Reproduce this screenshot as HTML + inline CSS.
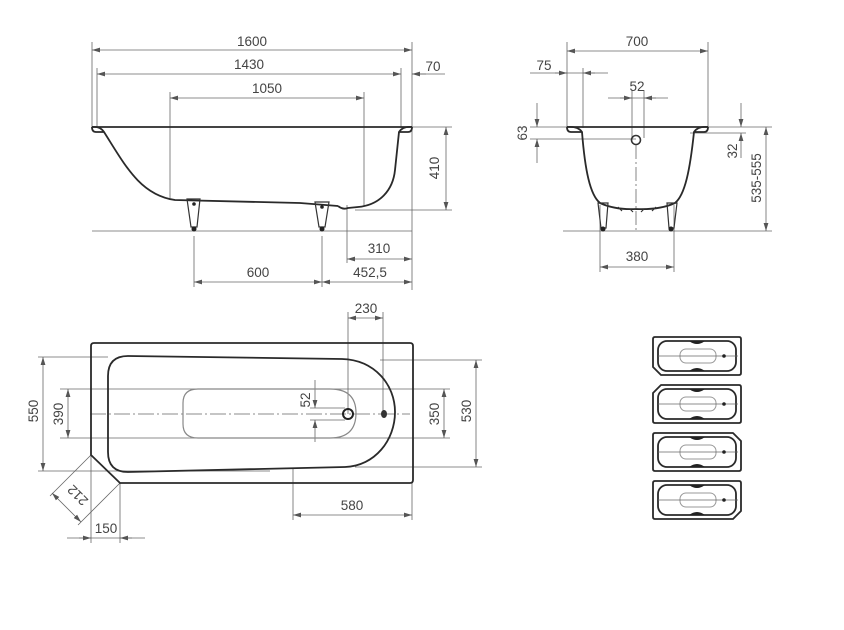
<!DOCTYPE html>
<html><head><meta charset="utf-8"><style>
html,body{margin:0;padding:0;background:#fff;}
svg{display:block;font-family:"Liberation Sans","DejaVu Sans",sans-serif;}
.o{fill:none;stroke:#2a2a2a;stroke-width:1.8;stroke-linejoin:round}
.d{fill:none;stroke:#666;stroke-width:0.8}
.c{fill:none;stroke:#777;stroke-width:0.8;stroke-dasharray:14 3 2 3}
.r{fill:none;stroke:#888;stroke-width:1.2}
text{font-size:13.5px;fill:#444;text-anchor:middle}
</style></head><body>
<svg width="844" height="630" viewBox="0 0 844 630" xmlns="http://www.w3.org/2000/svg">
<defs>
<marker id="a" viewBox="0 0 10 6" refX="10" refY="3" markerWidth="8" markerHeight="5" orient="auto-start-reverse" markerUnits="userSpaceOnUse"><path d="M0,0 L10,3 L0,6z" fill="#555"/></marker>
</defs>

<!-- ===== SIDE ELEVATION ===== -->
<g class="d">
<line x1="92" y1="42" x2="92" y2="128"/>
<line x1="412" y1="42" x2="412" y2="290"/>
<line x1="97" y1="68" x2="97" y2="128"/>
<line x1="401" y1="68" x2="401" y2="128"/>
<line x1="170" y1="92" x2="170" y2="198"/>
<line x1="364" y1="92" x2="364" y2="206"/>
<line x1="92" y1="50" x2="412" y2="50" marker-start="url(#a)" marker-end="url(#a)"/>
<line x1="97" y1="74" x2="401" y2="74" marker-start="url(#a)" marker-end="url(#a)"/>
<line x1="412" y1="74" x2="445" y2="74"/>
<line x1="426" y1="74" x2="412" y2="74" marker-end="url(#a)"/>
<line x1="170" y1="98" x2="364" y2="98" marker-start="url(#a)" marker-end="url(#a)"/>
<line x1="412" y1="127" x2="452" y2="127"/>
<line x1="355" y1="210" x2="452" y2="210"/>
<line x1="446" y1="127" x2="446" y2="210" marker-start="url(#a)" marker-end="url(#a)"/>
<line x1="347" y1="205" x2="347" y2="263"/>
<line x1="347" y1="259" x2="412" y2="259" marker-start="url(#a)" marker-end="url(#a)"/>
<line x1="194" y1="236" x2="194" y2="287"/>
<line x1="322" y1="236" x2="322" y2="287"/>
<line x1="194" y1="282" x2="322" y2="282" marker-start="url(#a)" marker-end="url(#a)"/>
<line x1="322" y1="282" x2="412" y2="282" marker-start="url(#a)" marker-end="url(#a)"/>
<line x1="92" y1="231" x2="412" y2="231"/>
</g>
<text x="252" y="46">1600</text>
<text x="249" y="69">1430</text>
<text x="433" y="71">70</text>
<text x="267" y="93">1050</text>
<text x="0" y="0" transform="translate(439,168) rotate(-90)">410</text>
<text x="379" y="253">310</text>
<text x="258" y="277">600</text>
<text x="370" y="277">452,5</text>
<g class="o">
<path d="M92,127 L412,127"/>
<path d="M92,127 Q92,132 96,132 L104,132 Q100,126 92,127"/>
<path d="M412,127 Q412,132 408,132 L399,132 Q403,126 412,127"/>
<path d="M104,132 C125,165 140,195 175,200 L300,203 L338,206"/>
<path d="M338,206 Q343,210 348,208 L358,207 C380,205 393,190 395,170 L399,132"/>
</g>
<g fill="none" stroke="#333" stroke-width="1.2">
<path d="M187,199 L200,199 L197,227 L191,227 Z"/>
<path d="M315,202 L329,202 L325,227 L319,227 Z"/>
</g>
<circle cx="194" cy="229" r="2.5" fill="#222"/><circle cx="322" cy="229" r="2.5" fill="#222"/>
<circle cx="194" cy="204" r="1.8" fill="#222"/><circle cx="322" cy="207" r="1.8" fill="#222"/>

<!-- ===== END ELEVATION ===== -->
<g class="d">
<line x1="567" y1="42" x2="567" y2="128"/>
<line x1="708" y1="42" x2="708" y2="128"/>
<line x1="567" y1="51" x2="708" y2="51" marker-start="url(#a)" marker-end="url(#a)"/>
<line x1="530" y1="73" x2="608" y2="73"/>
<line x1="555" y1="73" x2="567" y2="73" marker-end="url(#a)"/>
<line x1="595" y1="73" x2="583" y2="73" marker-end="url(#a)"/>
<line x1="583" y1="68" x2="583" y2="128"/>
<line x1="608" y1="98" x2="668" y2="98"/>
<line x1="620" y1="98" x2="632" y2="98" marker-end="url(#a)"/>
<line x1="656" y1="98" x2="644" y2="98" marker-end="url(#a)"/>
<line x1="632" y1="90" x2="632" y2="138"/>
<line x1="644" y1="90" x2="644" y2="138"/>
<line x1="530" y1="127" x2="567" y2="127"/>
<line x1="530" y1="139" x2="636" y2="139"/>
<line x1="537" y1="103" x2="537" y2="127" marker-end="url(#a)"/>
<line x1="537" y1="163" x2="537" y2="139" marker-end="url(#a)"/>
<line x1="708" y1="127" x2="772" y2="127"/>
<line x1="690" y1="133" x2="746" y2="133"/>
<line x1="741" y1="103" x2="741" y2="127" marker-end="url(#a)"/>
<line x1="741" y1="158" x2="741" y2="133" marker-end="url(#a)"/>
<line x1="766" y1="127" x2="766" y2="231" marker-start="url(#a)" marker-end="url(#a)"/>
<line x1="563" y1="231" x2="772" y2="231"/>
<line x1="600" y1="205" x2="600" y2="272"/>
<line x1="674" y1="205" x2="674" y2="272"/>
<line x1="600" y1="267" x2="674" y2="267" marker-start="url(#a)" marker-end="url(#a)"/>
<line x1="636" y1="145" x2="636" y2="231" stroke-dasharray="14 3 2 3"/>
</g>
<text x="637" y="46">700</text>
<text x="544" y="70">75</text>
<text x="637" y="91">52</text>
<text x="0" y="0" transform="translate(527,133) rotate(-90)">63</text>
<text x="0" y="0" transform="translate(737,151) rotate(-90)">32</text>
<text x="0" y="0" transform="translate(761,178) rotate(-90)">535-555</text>
<text x="637" y="261">380</text>
<g class="o">
<path d="M567,127 L708,127"/>
<path d="M567,127 Q567,132 571,132 L582,132 Q578,126 567,127"/>
<path d="M708,127 Q708,132 704,132 L694,132 Q698,126 708,127"/>
<path d="M582,132 C585,170 590,195 600,203 Q615,210 636,209 Q660,210 675,203 C685,195 690,170 694,132"/>
</g>
<circle cx="636" cy="140" r="4.5" fill="none" stroke="#333" stroke-width="1.6"/>
<g fill="none" stroke="#333" stroke-width="1.2">
<path d="M598,203 L608,203 L606,228 L601,228 Z"/>
<path d="M667,203 L677,203 L674,228 L669,228 Z"/>
<path d="M618,207 l4,4 M630,209 l3,3 M644,209 l-3,3 M656,207 l-4,4"/>
</g>
<circle cx="603" cy="229" r="2.5" fill="#222"/><circle cx="671" cy="229" r="2.5" fill="#222"/>

<!-- ===== PLAN VIEW ===== -->
<g class="d">
<line x1="38" y1="357" x2="108" y2="357"/>
<line x1="38" y1="471" x2="270" y2="471"/>
<line x1="43" y1="357" x2="43" y2="471" marker-start="url(#a)" marker-end="url(#a)"/>
<line x1="60" y1="389" x2="450" y2="389"/>
<line x1="60" y1="438" x2="450" y2="438"/>
<line x1="68" y1="389" x2="68" y2="438" marker-start="url(#a)" marker-end="url(#a)"/>
<line x1="315" y1="380" x2="315" y2="408" marker-end="url(#a)"/>
<line x1="315" y1="442" x2="315" y2="420" marker-end="url(#a)"/>
<line x1="310" y1="408" x2="345" y2="408"/>
<line x1="310" y1="420" x2="345" y2="420"/>
<line x1="444" y1="389" x2="444" y2="438" marker-start="url(#a)" marker-end="url(#a)"/>
<line x1="380" y1="360" x2="482" y2="360"/>
<line x1="355" y1="467" x2="482" y2="467"/>
<line x1="476" y1="360" x2="476" y2="467" marker-start="url(#a)" marker-end="url(#a)"/>
<line x1="348" y1="312" x2="348" y2="414"/>
<line x1="383" y1="312" x2="383" y2="414"/>
<line x1="348" y1="318" x2="383" y2="318" marker-start="url(#a)" marker-end="url(#a)"/>
<line x1="293" y1="468" x2="293" y2="520"/>
<line x1="412" y1="483" x2="412" y2="520"/>
<line x1="293" y1="515" x2="412" y2="515" marker-start="url(#a)" marker-end="url(#a)"/>
<line x1="91" y1="455" x2="91" y2="543"/>
<line x1="120" y1="483" x2="120" y2="543"/>
<line x1="67" y1="538" x2="145" y2="538"/>
<line x1="79" y1="538" x2="91" y2="538" marker-end="url(#a)"/>
<line x1="132" y1="538" x2="120" y2="538" marker-end="url(#a)"/>
<line x1="91" y1="455" x2="50" y2="496"/>
<line x1="120" y1="483" x2="78" y2="525"/>
<line x1="52" y1="493" x2="81" y2="522" marker-start="url(#a)" marker-end="url(#a)"/>
<line x1="90" y1="414" x2="410" y2="414" stroke-dasharray="16 3 2 3"/>
</g>
<text x="0" y="0" transform="translate(38,411) rotate(-90)">550</text>
<text x="0" y="0" transform="translate(63,414) rotate(-90)">390</text>
<text x="0" y="0" transform="translate(310,400) rotate(-90)">52</text>
<text x="0" y="0" transform="translate(439,414) rotate(-90)">350</text>
<text x="0" y="0" transform="translate(471,411) rotate(-90)">530</text>
<text x="366" y="313">230</text>
<text x="352" y="510">580</text>
<text x="106" y="533">150</text>
<text x="0" y="0" transform="translate(81,492) rotate(225)">212</text>
<g class="o">
<path d="M94,343 L410,343 Q413,343 413,346 L413,480 Q413,483 410,483 L120,483 L91,455 L91,346 Q91,343 94,343 Z"/>
<path d="M128,356 L342,359 C375,360 395,385 395,412 C395,440 375,466 345,467 L128,472 Q108,472 108,452 L108,376 Q108,356 128,356 Z"/>
</g>
<path class="r" d="M198,389 L330,389 Q356,389 356,413 Q356,438 330,438 L198,438 Q183,438 183,424 L183,403 Q183,389 198,389 Z"/>
<circle cx="348" cy="414" r="5" fill="none" stroke="#222" stroke-width="2"/>
<ellipse cx="384" cy="414" rx="3" ry="4" fill="#333"/>

<!-- ===== THUMBNAILS ===== -->
<g>
<path class="o" d="M655,337 L739,337 Q741,337 741,339 L741,373 Q741,375 739,375 L661,375 L653,367 L653,339 Q653,337 655,337 Z"/>
<rect x="658" y="341" width="78" height="30" rx="9" class="o" stroke-width="1.5"/>
<rect x="680" y="349" width="36" height="14" rx="6" fill="none" stroke="#999" stroke-width="1"/>
<line x1="658" y1="356" x2="738" y2="356" stroke="#666" stroke-width="0.8"/>
<path d="M689,341 Q697,347 705,341 Z M689,371 Q697,365 705,371 Z" fill="#222"/>
<circle cx="724" cy="356" r="1.8" fill="#222"/>
</g>
<g>
<path class="o" d="M661,385 L739,385 Q741,385 741,387 L741,421 Q741,423 739,423 L655,423 Q653,423 653,421 L653,393 Z"/>
<rect x="658" y="389" width="78" height="30" rx="9" class="o" stroke-width="1.5"/>
<rect x="680" y="397" width="36" height="14" rx="6" fill="none" stroke="#999" stroke-width="1"/>
<line x1="658" y1="404" x2="738" y2="404" stroke="#666" stroke-width="0.8"/>
<path d="M689,389 Q697,395 705,389 Z M689,419 Q697,413 705,419 Z" fill="#222"/>
<circle cx="724" cy="404" r="1.8" fill="#222"/>
</g>
<g>
<path class="o" d="M655,433 L733,433 L741,441 L741,469 Q741,471 739,471 L655,471 Q653,471 653,469 L653,435 Q653,433 655,433 Z"/>
<rect x="658" y="437" width="78" height="30" rx="9" class="o" stroke-width="1.5"/>
<rect x="680" y="445" width="36" height="14" rx="6" fill="none" stroke="#999" stroke-width="1"/>
<line x1="658" y1="452" x2="738" y2="452" stroke="#666" stroke-width="0.8"/>
<path d="M689,437 Q697,443 705,437 Z M689,467 Q697,461 705,467 Z" fill="#222"/>
<circle cx="724" cy="452" r="1.8" fill="#222"/>
</g>
<g>
<path class="o" d="M655,481 L739,481 Q741,481 741,483 L741,511 L733,519 L655,519 Q653,519 653,517 L653,483 Q653,481 655,481 Z"/>
<rect x="658" y="485" width="78" height="30" rx="9" class="o" stroke-width="1.5"/>
<rect x="680" y="493" width="36" height="14" rx="6" fill="none" stroke="#999" stroke-width="1"/>
<line x1="658" y1="500" x2="738" y2="500" stroke="#666" stroke-width="0.8"/>
<path d="M689,485 Q697,491 705,485 Z M689,515 Q697,509 705,515 Z" fill="#222"/>
<circle cx="724" cy="500" r="1.8" fill="#222"/>
</g>
</svg>
</body></html>
